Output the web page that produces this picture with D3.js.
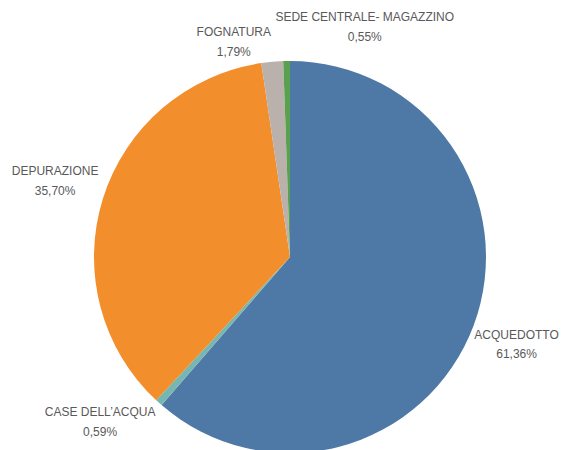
<!DOCTYPE html>
<html>
<head>
<meta charset="UTF-8">
<title>pie</title>
<style>
  body { margin: 0; background: #fff; }
  .lbl { font-family: "Liberation Sans", Arial, sans-serif; font-size: 12px; fill: #595959; }
</style>
</head>
<body>
<script src="https://cdn.jsdelivr.net/npm/d3@7/dist/d3.min.js"></script>
<script>
var categories = ["ACQUEDOTTO", "CASE DELL\u2019ACQUA", "DEPURAZIONE", "FOGNATURA", "SEDE CENTRALE- MAGAZZINO"];
var values = [61.36, 0.59, 35.70, 1.79, 0.55];
var labels = ["61,36%", "0,59%", "35,70%", "1,79%", "0,55%"];
var colors = ["#4e79a7", "#76b7b2", "#f28e2b", "#bab0ac", "#59a14f"];
// label nudges (dx, dy) from the slice's mid angle, like the spreadsheet placement
var nudges = [[-3, -8], [-26, -27], [-1, -13], [-34, 19], [79, 5]];

var width = 565, height = 450,
    cx = 290, cy = 257, radius = 196, labelR = 245;

var svg = d3.select("body").append("svg")
    .attr("width", width)
    .attr("height", height);

var data = categories.map(function(c, i) {
    return {name: c, value: values[i], label: labels[i], color: colors[i], nudge: nudges[i]};
});

var pie = d3.pie()
    .sort(null)
    .value(function(d) { return d.value; });

var arc = d3.arc().innerRadius(0).outerRadius(radius);
var labelArc = d3.arc().innerRadius(labelR).outerRadius(labelR);

var g = svg.append("g").attr("transform", "translate(" + cx + "," + cy + ")");

g.selectAll("path.slice")
    .data(pie(data))
    .enter().append("path")
    .attr("class", "slice")
    .attr("d", arc)
    .attr("fill", function(d) { return d.data.color; });

var lbl = g.selectAll("text.lbl")
    .data(pie(data))
    .enter().append("text")
    .attr("class", "lbl")
    .attr("text-anchor", "middle")
    .attr("transform", function(d) {
        var p = labelArc.centroid(d);
        return "translate(" + (p[0] + d.data.nudge[0]) + "," + (p[1] + d.data.nudge[1]) + ")";
    });

lbl.append("tspan").attr("x", 0).attr("dy", "0.36em").text(function(d) { return d.data.name; });
lbl.append("tspan").attr("x", 0).attr("dy", "1.6em").text(function(d) { return d.data.label; });
</script>
</body>
</html>
